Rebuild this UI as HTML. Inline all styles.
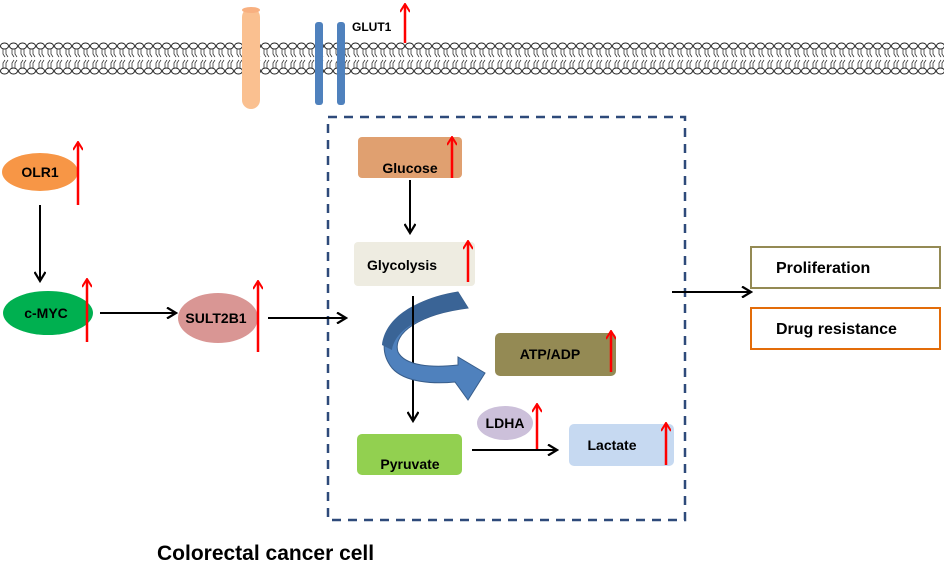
<!DOCTYPE html>
<html><head><meta charset="utf-8"><style>
body{margin:0;background:#fff;}
svg{display:block;font-family:"Liberation Sans",sans-serif;font-weight:bold;}
</style></head><body>
<svg width="944" height="566" viewBox="0 0 944 566" xmlns="http://www.w3.org/2000/svg">
<defs>
<marker id="ab" markerWidth="12" markerHeight="12" refX="9" refY="6" orient="auto" markerUnits="userSpaceOnUse"><path d="M1,0.5 L10,6 L1,11.5" fill="none" stroke="#000" stroke-width="2.2"/></marker>
<marker id="ar" markerWidth="10" markerHeight="10" refX="8" refY="5" orient="auto" markerUnits="userSpaceOnUse"><path d="M1,0 L9,5 L1,10" fill="none" stroke="#f00" stroke-width="2"/></marker>
<pattern id="lip" x="0" y="42" width="9" height="34" patternUnits="userSpaceOnUse">
<path d="M3,7 L3,12 L5,15 M6,7 L6,12 L8,15 M3,26 L3,21 L5,18 M6,26 L6,21 L8,18" fill="none" stroke="#333" stroke-width="0.8"/>
<ellipse cx="4.5" cy="4" rx="4" ry="3" fill="#fff" stroke="#222" stroke-width="1"/>
<ellipse cx="4.5" cy="29" rx="4" ry="3" fill="#fff" stroke="#222" stroke-width="1"/>
</pattern>
</defs>
<rect x="0" y="42" width="944" height="34" fill="url(#lip)"/>
<rect x="242" y="8" width="18" height="101" rx="9" fill="#fac090"/>
<ellipse cx="251" cy="10" rx="9" ry="3" fill="#f8b080"/>
<rect x="315" y="22" width="8" height="83" rx="3" fill="#4f81bd"/>
<rect x="337" y="22" width="8" height="83" rx="3" fill="#4f81bd"/>
<text x="352" y="31" font-size="12">GLUT1</text>
<line x1="405" y1="43" x2="405" y2="5" stroke="#f00" stroke-width="2.5" marker-end="url(#ar)"/>

<rect x="328" y="117" width="357" height="403" fill="none" stroke="#2e4a7a" stroke-width="2.5" stroke-dasharray="9,7"/>

<ellipse cx="40" cy="172" rx="38" ry="19" fill="#f79646"/>
<text x="40" y="177" font-size="14" text-anchor="middle">OLR1</text>
<line x1="78" y1="205" x2="78" y2="143" stroke="#f00" stroke-width="2.5" marker-end="url(#ar)"/>
<line x1="40" y1="205" x2="40" y2="280" stroke="#000" stroke-width="2" marker-end="url(#ab)"/>

<ellipse cx="48" cy="313" rx="45" ry="22" fill="#00b050"/>
<text x="46" y="318" font-size="14" text-anchor="middle">c-MYC</text>
<line x1="87" y1="342" x2="87" y2="280" stroke="#f00" stroke-width="2.5" marker-end="url(#ar)"/>
<line x1="100" y1="313" x2="175" y2="313" stroke="#000" stroke-width="2" marker-end="url(#ab)"/>

<ellipse cx="218" cy="318" rx="40" ry="25" fill="#d99694"/>
<text x="216" y="323" font-size="14" text-anchor="middle">SULT2B1</text>
<line x1="258" y1="352" x2="258" y2="282" stroke="#f00" stroke-width="2.5" marker-end="url(#ar)"/>
<line x1="268" y1="318" x2="345" y2="318" stroke="#000" stroke-width="2" marker-end="url(#ab)"/>

<rect x="358" y="137" width="104" height="41" rx="4" fill="#e0a070"/>
<text x="410" y="173" font-size="14" text-anchor="middle">Glucose</text>
<line x1="452" y1="178" x2="452" y2="138" stroke="#f00" stroke-width="2.5" marker-end="url(#ar)"/>
<line x1="410" y1="180" x2="410" y2="232" stroke="#000" stroke-width="2" marker-end="url(#ab)"/>

<rect x="354" y="242" width="121" height="44" rx="4" fill="#eeece1"/>
<text x="402" y="270" font-size="14" text-anchor="middle">Glycolysis</text>
<line x1="468" y1="282" x2="468" y2="242" stroke="#f00" stroke-width="2.5" marker-end="url(#ar)"/>
<line x1="413" y1="296" x2="413" y2="420" stroke="#000" stroke-width="2" marker-end="url(#ab)"/>

<path d="M458,292 C395,302 370,340 392,368 C405,383 435,384 455,382 L468,400 L485,373 L458,357 L458,365 C432,368 405,366 398,352 C392,333 420,314 468,308 Z" fill="#4f81bd" stroke="#385d8a" stroke-width="1"/>
<path d="M458,292 C410,300 385,320 382,345 L392,350 C395,330 420,314 468,308 Z" fill="#3a6496"/>
<line x1="413" y1="296" x2="413" y2="330" stroke="#000" stroke-width="2"/>

<rect x="495" y="333" width="121" height="43" rx="5" fill="#948a54"/>
<text x="550" y="359" font-size="14" text-anchor="middle">ATP/ADP</text>
<line x1="611" y1="372" x2="611" y2="332" stroke="#f00" stroke-width="2.5" marker-end="url(#ar)"/>

<rect x="357" y="434" width="105" height="41" rx="5" fill="#92d050"/>
<text x="410" y="469" font-size="14" text-anchor="middle">Pyruvate</text>
<line x1="472" y1="450" x2="556" y2="450" stroke="#000" stroke-width="2" marker-end="url(#ab)"/>
<ellipse cx="505" cy="423" rx="28" ry="17" fill="#ccc0da"/>
<text x="505" y="428" font-size="14" text-anchor="middle">LDHA</text>
<line x1="537" y1="449" x2="537" y2="405" stroke="#f00" stroke-width="2.5" marker-end="url(#ar)"/>

<rect x="569" y="424" width="105" height="42" rx="5" fill="#c6d9f1"/>
<text x="612" y="450" font-size="14" text-anchor="middle">Lactate</text>
<line x1="666" y1="465" x2="666" y2="424" stroke="#f00" stroke-width="2.5" marker-end="url(#ar)"/>

<line x1="672" y1="292" x2="750" y2="292" stroke="#000" stroke-width="2" marker-end="url(#ab)"/>
<rect x="751" y="247" width="189" height="41" fill="#fff" stroke="#948a54" stroke-width="2"/>
<text x="776" y="273" font-size="16">Proliferation</text>
<rect x="751" y="308" width="189" height="41" fill="#fff" stroke="#e36c09" stroke-width="2"/>
<text x="776" y="334" font-size="16">Drug resistance</text>

<text x="157" y="560" font-size="21">Colorectal cancer cell</text>
</svg>
</body></html>
